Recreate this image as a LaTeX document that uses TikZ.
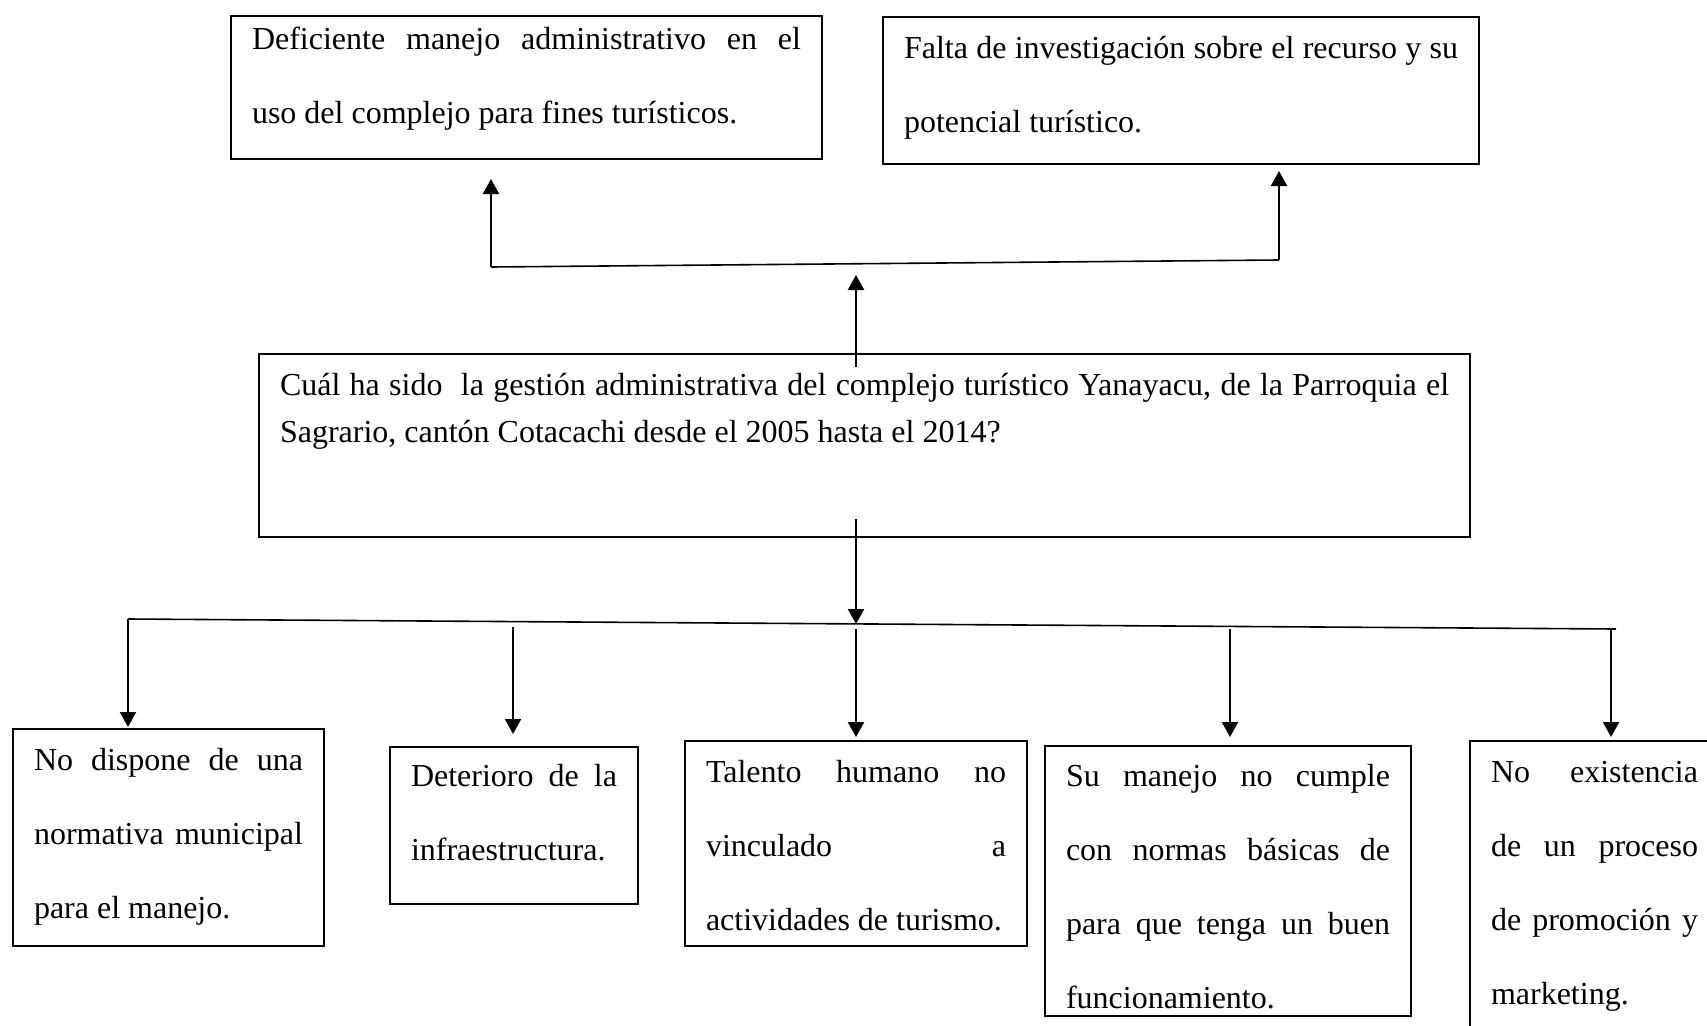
\documentclass[tikz,border=0pt]{standalone}
\usepackage{fontspec}
\setmainfont{Liberation Serif}
\usetikzlibrary{arrows.meta}
% text box: width, height, first baseline, text
\newcommand{\cajatexto}[4]{\parbox[c][#2][t]{#1}{\tolerance=10000\hbadness=10000\rule{0pt}{#3}#4}}
\begin{document}
\begin{tikzpicture}[x=1pt, y=-1pt,
  caja/.style={draw, line width=2pt, anchor=north west, inner xsep=21pt, inner ysep=0pt,
    font=\fontsize{32}{74}\selectfont},
  flecha/.style={line width=2.2pt, -{Triangle[width=16pt,length=15pt]}},
  barra/.style={line width=1.6pt}]
  \useasboundingbox (0,0) rectangle (1707,1025);
  \clip (0,0) rectangle (1707,1025);
  % Effects (top)
  \node[caja] (efecto1) at (230,15)
    {\cajatexto{549pt}{143pt}{33pt}{Deficiente manejo administrativo en el\linebreak uso del complejo para fines turísticos.}};
  \node[caja] (efecto2) at (882,16)
    {\cajatexto{554pt}{147pt}{41pt}{Falta de investigación sobre el recurso y su\linebreak potencial turístico.}};
  % Central problem
  \node[caja, font=\fontsize{32}{47}\selectfont] (problema) at (258,353)
    {\cajatexto{1169pt}{183pt}{41pt}{Cuál ha sido\ \ la gestión administrativa del complejo turístico Yanayacu, de la Parroquia el\linebreak Sagrario, cantón Cotacachi desde el 2005 hasta el 2014?}};
  % Causes (bottom)
  \node[caja] (causa1) at (12,728)
    {\cajatexto{269pt}{217pt}{41pt}{No dispone de una\linebreak normativa municipal\linebreak para el manejo.}};
  \node[caja] (causa2) at (389,746)
    {\cajatexto{206pt}{157pt}{39pt}{Deterioro de la\linebreak infraestructura.}};
  \node[caja] (causa3) at (684,740)
    {\cajatexto{300pt}{205pt}{41pt}{Talento humano no\linebreak vinculado a\linebreak actividades de turismo.}};
  \node[caja] (causa4) at (1044,745)
    {\cajatexto{324pt}{270pt}{40pt}{Su manejo no cumple\linebreak con normas básicas de\linebreak para que tenga un buen\linebreak funcionamiento.}};
  \node[caja] (causa5) at (1469,740)
    {\cajatexto{207pt}{300pt}{41pt}{No existencia\linebreak de un proceso\linebreak de promoción y\linebreak marketing.}};
  % Upper bar
  \coordinate (arrI) at (491,267);
  \coordinate (arrD) at (1279,260);
  \coordinate (arrC) at (856,264);
  \draw[barra] (arrI) -- (arrD);
  \draw[flecha, shorten >=19pt] (arrI) -- (arrI |- efecto1.south);
  \draw[flecha, shorten >=6pt] (arrD) -- (arrD |- efecto2.south);
  \draw[flecha, shorten >=11pt] ([yshift=-14pt]problema.north -| arrC) -- (arrC);
  % Lower bar
  \coordinate (abj1) at (128,619);
  \coordinate (abj2) at (513,622);
  \coordinate (abj3) at (856,624);
  \coordinate (abj4) at (1230,626);
  \coordinate (abj5) at (1611,629);
  \coordinate (abjF) at (1616,629);
  \draw[barra] (abj1) -- (abjF);
  \draw[flecha] ([yshift=19pt]problema.south -| abj3) -- (abj3);
  \draw[flecha, shorten >=1pt] (abj1) -- (abj1 |- causa1.north);
  \draw[flecha, shorten >=12pt] ([yshift=-5pt]abj2) -- (abj2 |- causa2.north);
  \draw[flecha, shorten >=3pt] ([yshift=-5pt]abj3) -- (abj3 |- causa3.north);
  \draw[flecha, shorten >=8pt] ([yshift=-3pt]abj4) -- (abj4 |- causa4.north);
  \draw[flecha, shorten >=3pt] (abj5) -- (abj5 |- causa5.north);
\end{tikzpicture}
\end{document}
